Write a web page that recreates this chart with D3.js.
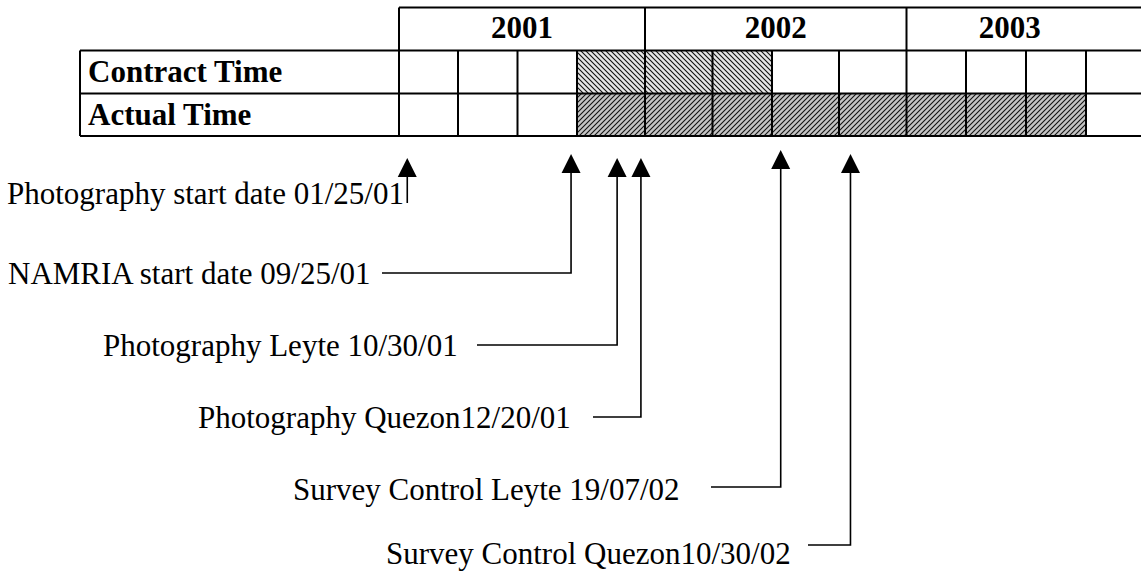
<!DOCTYPE html>
<html>
<head>
<meta charset="utf-8">
<script src="https://cdn.jsdelivr.net/npm/d3@7"></script>
<style>
  body { margin: 0; background: #fff; }
  text { font-family: "Liberation Serif", "Times New Roman", serif; fill: #000; }
</style>
</head>
<body>
<div id="chart"></div>
<script>
// Data
//==============================================================
var years = ["2001", "2002", "2003"];
var quartersPerYear = 4;
var rowNames = ["Contract Time", "Actual Time"];
// quarter index (0 = Q1 2001) where each bar starts and ends
var contractSpan = [3, 6];
var actualSpan = [3, 11];

var eventLabels = [
    "Photography start date 01/25/01",
    "NAMRIA start date 09/25/01",
    "Photography Leyte 10/30/01",
    "Photography Quezon12/20/01",
    "Survey Control Leyte 19/07/02",
    "Survey Control Quezon10/30/02"
];
// where each arrow was drawn, in quarters from the start of 2001
var eventPos = [0.14, 2.90, 3.59, 3.94, 6.13, 7.17];

// Layout
//==============================================================
var svgWidth = 1141;
var svgHeight = 571;

// word table column edges (uneven widths, last column runs off the page)
var colEdges = [399, 458, 517.5, 577, 645, 712.5, 772, 839, 906.5, 966, 1026, 1086, 1146];
var tableLeft = 80;
var rowEdges = [7.5, 50.5, 93.5, 136];

// event text rows
var labelX = [7, 8, 103, 198, 293, 386];
var labelY = [204, 284, 356, 428, 500, 564];
var leaderY = [null, 273, 345, 417, 487, 545];
var leaderStart = [null, 382, 477, 593, 711, 808];
var tipY = [158, 154, 158, 158, 150, 154];
var stemBottom = [203, null, null, null, null, null];

var svg = d3.select("#chart")
    .append("svg")
    .attr("width", svgWidth)
    .attr("height", svgHeight);

var nQ = years.length * quartersPerYear;
var x = d3.scaleLinear()
    .domain(d3.range(nQ + 1))
    .range(colEdges);

var yRow = d3.scaleOrdinal()
    .domain(["header"].concat(rowNames))
    .range([0, 1, 2]);

// hatch patterns
var defs = svg.append("defs");
var pc = defs.append("pattern")
    .attr("id", "hatchContract")
    .attr("patternUnits", "userSpaceOnUse")
    .attr("width", 5).attr("height", 5);
pc.append("rect").attr("width", 5).attr("height", 5).attr("fill", "#e6e6e6");
pc.append("path")
    .attr("d", "M-1,-1 L6,6 M-1,4 L1,6 M4,-1 L6,1")
    .attr("stroke", "#111").attr("stroke-width", 1.1);

var pa = defs.append("pattern")
    .attr("id", "hatchActual")
    .attr("patternUnits", "userSpaceOnUse")
    .attr("width", 5).attr("height", 5);
pa.append("rect").attr("width", 5).attr("height", 5).attr("fill", "#c4c4c4");
pa.append("path")
    .attr("d", "M-1,6 L6,-1 M-1,1 L1,-1 M4,6 L6,4")
    .attr("stroke", "#111").attr("stroke-width", 1.1);

var table = svg.append("g");

// shaded cells
var bars = [
    { row: "Contract Time", span: contractSpan, fill: "url(#hatchContract)" },
    { row: "Actual Time", span: actualSpan, fill: "url(#hatchActual)" }
];
table.selectAll("rect.bar")
    .data(bars)
    .enter()
    .append("rect")
    .attr("class", "bar")
    .attr("x", d => x(d.span[0]))
    .attr("width", d => x(d.span[1]) - x(d.span[0]))
    .attr("y", d => rowEdges[yRow(d.row)])
    .attr("height", d => rowEdges[yRow(d.row) + 1] - rowEdges[yRow(d.row)])
    .attr("fill", d => d.fill);

// grid lines
var lineStyle = function(sel) {
    sel.attr("stroke", "#000").attr("stroke-width", 2).attr("fill", "none");
};
// horizontal lines
table.append("line").call(lineStyle)
    .attr("x1", x(0)).attr("x2", x(nQ)).attr("y1", rowEdges[0]).attr("y2", rowEdges[0]);
rowEdges.slice(1).forEach(function(yy) {
    table.append("line").call(lineStyle)
        .attr("x1", tableLeft).attr("x2", x(nQ)).attr("y1", yy).attr("y2", yy);
});
// left border of label column
table.append("line").call(lineStyle)
    .attr("x1", tableLeft).attr("x2", tableLeft).attr("y1", rowEdges[1]).attr("y2", rowEdges[3]);
// year dividers
d3.range(years.length).forEach(function(i) {
    var xx = x(i * quartersPerYear);
    table.append("line").call(lineStyle)
        .attr("x1", xx).attr("x2", xx).attr("y1", rowEdges[0]).attr("y2", rowEdges[3]);
});
// quarter dividers
d3.range(nQ).forEach(function(q) {
    if (q % quartersPerYear === 0) return;
    table.append("line").call(lineStyle)
        .attr("x1", x(q)).attr("x2", x(q)).attr("y1", rowEdges[1]).attr("y2", rowEdges[3]);
});

// year labels
table.selectAll("text.year")
    .data(years)
    .enter()
    .append("text")
    .attr("class", "year")
    .attr("x", (d, i) => (x(i * quartersPerYear) + x(Math.min((i + 1) * quartersPerYear, nQ - 0.55))) / 2)
    .attr("y", 38)
    .attr("text-anchor", "middle")
    .style("font-weight", "bold")
    .style("font-size", "31px")
    .text(d => d);

// row labels
table.selectAll("text.row")
    .data(rowNames)
    .enter()
    .append("text")
    .attr("class", "row")
    .attr("x", tableLeft + 8)
    .attr("y", d => rowEdges[yRow(d)] + 31)
    .style("font-weight", "bold")
    .style("font-size", "31px")
    .text(d => d);

// event arrows
var events = eventLabels.map(function(label, i) {
    return { label: label, pos: eventPos[i], i: i };
});

var ev = svg.append("g");

ev.selectAll("text.event")
    .data(events)
    .enter()
    .append("text")
    .attr("class", "event")
    .attr("x", d => labelX[d.i])
    .attr("y", d => labelY[d.i])
    .style("font-size", "31px")
    .text(d => d.label);

// stems + leaders
ev.selectAll("path.stem")
    .data(events)
    .enter()
    .append("path")
    .attr("class", "stem")
    .attr("fill", "none")
    .attr("stroke", "#000")
    .attr("stroke-width", 1.6)
    .attr("d", function(d) {
        var xx = x(d.pos);
        var top = tipY[d.i] + 16;
        if (leaderY[d.i] === null) {
            return "M" + xx + "," + top + " L" + xx + "," + stemBottom[d.i];
        }
        return "M" + xx + "," + top + " L" + xx + "," + leaderY[d.i] + " L" + leaderStart[d.i] + "," + leaderY[d.i];
    });

// arrow heads
ev.selectAll("path.head")
    .data(events)
    .enter()
    .append("path")
    .attr("class", "head")
    .attr("fill", "#000")
    .attr("d", function(d) {
        var xx = x(d.pos);
        var t = tipY[d.i];
        return "M" + xx + "," + t + " L" + (xx + 9.5) + "," + (t + 19) + " L" + (xx - 9.5) + "," + (t + 19) + " Z";
    });
</script>
</body>
</html>
